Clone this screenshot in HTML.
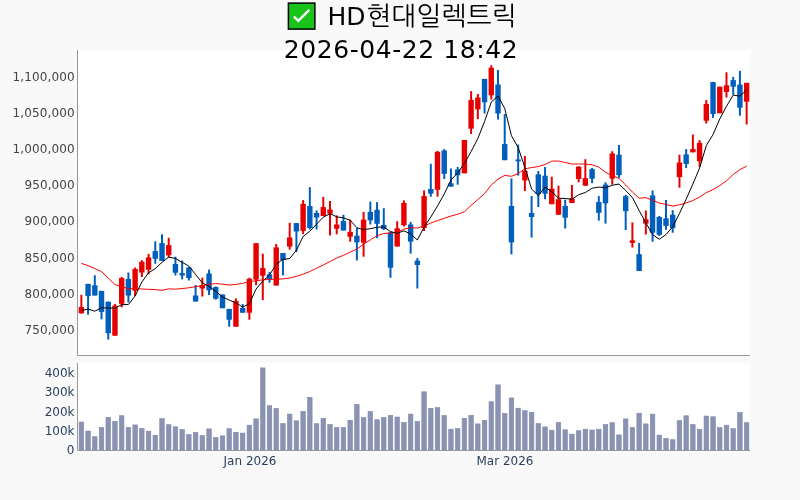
<!DOCTYPE html>
<html><head><meta charset="utf-8"><title>HD현대일렉트릭</title>
<style>
html,body{margin:0;padding:0;width:800px;height:500px;overflow:hidden;background:#f9f9f9;}
svg{display:block;will-change:transform;}
.t{font-family:"DejaVu Sans","Liberation Sans","NanumGothic",sans-serif;font-size:25px;fill:#000;}
.ax{font-family:"DejaVu Sans","Liberation Sans",sans-serif;font-size:12px;fill:#444;}
.vx{font-family:"DejaVu Sans","Liberation Sans",sans-serif;font-size:12px;fill:#2a3f5f;}
</style></head><body>
<svg width="800" height="500" viewBox="0 0 800 500">
<rect width="800" height="500" fill="#f9f9f9"/>
<rect x="78" y="50" width="672" height="305" fill="#fff"/>
<rect x="78" y="363" width="672" height="87" fill="#fff"/>
<g>
<line x1="81.36" y1="294.8" x2="81.36" y2="313.7" stroke="#e60000" stroke-width="2.0"/>
<rect x="78.66" y="307.0" width="5.4" height="6.3" fill="#e60000"/>
<line x1="88.08" y1="283.9" x2="88.08" y2="314.7" stroke="#005ebd" stroke-width="2.0"/>
<rect x="85.38" y="283.9" width="5.4" height="12.2" fill="#005ebd"/>
<line x1="94.80" y1="275.2" x2="94.80" y2="295.5" stroke="#005ebd" stroke-width="2.0"/>
<rect x="92.10" y="285.3" width="5.4" height="10.2" fill="#005ebd"/>
<line x1="101.52" y1="290.9" x2="101.52" y2="319.3" stroke="#005ebd" stroke-width="2.0"/>
<rect x="98.82" y="290.9" width="5.4" height="21.0" fill="#005ebd"/>
<line x1="108.24" y1="301.7" x2="108.24" y2="339.6" stroke="#005ebd" stroke-width="2.0"/>
<rect x="105.54" y="301.7" width="5.4" height="31.5" fill="#005ebd"/>
<line x1="114.96" y1="303.9" x2="114.96" y2="335.7" stroke="#e60000" stroke-width="2.0"/>
<rect x="112.26" y="305.6" width="5.4" height="30.1" fill="#e60000"/>
<line x1="121.68" y1="276.9" x2="121.68" y2="307.3" stroke="#e60000" stroke-width="2.0"/>
<rect x="118.98" y="278.1" width="5.4" height="25.7" fill="#e60000"/>
<line x1="128.40" y1="272.5" x2="128.40" y2="302.5" stroke="#005ebd" stroke-width="2.0"/>
<rect x="125.70" y="279.0" width="5.4" height="16.5" fill="#005ebd"/>
<line x1="135.12" y1="267.5" x2="135.12" y2="296.0" stroke="#e60000" stroke-width="2.0"/>
<rect x="132.42" y="269.0" width="5.4" height="21.8" fill="#e60000"/>
<line x1="141.84" y1="260.2" x2="141.84" y2="277.0" stroke="#e60000" stroke-width="2.0"/>
<rect x="139.14" y="261.7" width="5.4" height="10.8" fill="#e60000"/>
<line x1="148.56" y1="253.9" x2="148.56" y2="274.2" stroke="#e60000" stroke-width="2.0"/>
<rect x="145.86" y="257.4" width="5.4" height="12.3" fill="#e60000"/>
<line x1="155.28" y1="241.3" x2="155.28" y2="263.7" stroke="#005ebd" stroke-width="2.0"/>
<rect x="152.58" y="251.1" width="5.4" height="7.7" fill="#005ebd"/>
<line x1="162.00" y1="234.3" x2="162.00" y2="260.9" stroke="#005ebd" stroke-width="2.0"/>
<rect x="159.30" y="243.1" width="5.4" height="17.8" fill="#005ebd"/>
<line x1="168.72" y1="237.8" x2="168.72" y2="257.4" stroke="#e60000" stroke-width="2.0"/>
<rect x="166.02" y="245.1" width="5.4" height="10.2" fill="#e60000"/>
<line x1="175.44" y1="256.7" x2="175.44" y2="275.5" stroke="#005ebd" stroke-width="2.0"/>
<rect x="172.74" y="264.0" width="5.4" height="8.7" fill="#005ebd"/>
<line x1="182.16" y1="260.5" x2="182.16" y2="279.4" stroke="#005ebd" stroke-width="2.0"/>
<rect x="179.46" y="273.1" width="5.4" height="2.4" fill="#005ebd"/>
<line x1="188.88" y1="266.8" x2="188.88" y2="280.5" stroke="#005ebd" stroke-width="2.0"/>
<rect x="186.18" y="267.5" width="5.4" height="10.5" fill="#005ebd"/>
<line x1="195.60" y1="285.0" x2="195.60" y2="301.5" stroke="#005ebd" stroke-width="2.0"/>
<rect x="192.90" y="295.5" width="5.4" height="6.0" fill="#005ebd"/>
<line x1="202.32" y1="277.7" x2="202.32" y2="296.5" stroke="#e60000" stroke-width="2.0"/>
<rect x="199.62" y="285.0" width="5.4" height="3.5" fill="#e60000"/>
<line x1="209.04" y1="269.6" x2="209.04" y2="295.1" stroke="#005ebd" stroke-width="2.0"/>
<rect x="206.34" y="273.5" width="5.4" height="16.8" fill="#005ebd"/>
<line x1="215.76" y1="286.4" x2="215.76" y2="299.7" stroke="#005ebd" stroke-width="2.0"/>
<rect x="213.06" y="287.1" width="5.4" height="11.6" fill="#005ebd"/>
<line x1="222.48" y1="294.5" x2="222.48" y2="308.2" stroke="#005ebd" stroke-width="2.0"/>
<rect x="219.78" y="294.5" width="5.4" height="13.7" fill="#005ebd"/>
<line x1="229.20" y1="308.9" x2="229.20" y2="326.7" stroke="#005ebd" stroke-width="2.0"/>
<rect x="226.50" y="308.9" width="5.4" height="10.8" fill="#005ebd"/>
<line x1="235.92" y1="298.4" x2="235.92" y2="326.7" stroke="#e60000" stroke-width="2.0"/>
<rect x="233.22" y="300.9" width="5.4" height="25.8" fill="#e60000"/>
<line x1="242.64" y1="304.0" x2="242.64" y2="312.7" stroke="#005ebd" stroke-width="2.0"/>
<rect x="239.94" y="308.0" width="5.4" height="4.7" fill="#005ebd"/>
<line x1="249.36" y1="277.7" x2="249.36" y2="319.7" stroke="#e60000" stroke-width="2.0"/>
<rect x="246.66" y="278.8" width="5.4" height="33.9" fill="#e60000"/>
<line x1="256.08" y1="243.2" x2="256.08" y2="285.2" stroke="#e60000" stroke-width="2.0"/>
<rect x="253.38" y="243.2" width="5.4" height="36.4" fill="#e60000"/>
<line x1="262.80" y1="253.7" x2="262.80" y2="300.0" stroke="#e60000" stroke-width="2.0"/>
<rect x="260.10" y="268.1" width="5.4" height="7.6" fill="#e60000"/>
<line x1="269.52" y1="271.9" x2="269.52" y2="282.7" stroke="#005ebd" stroke-width="2.0"/>
<rect x="266.82" y="274.3" width="5.4" height="4.6" fill="#005ebd"/>
<line x1="276.24" y1="243.9" x2="276.24" y2="285.5" stroke="#e60000" stroke-width="2.0"/>
<rect x="273.54" y="247.4" width="5.4" height="38.1" fill="#e60000"/>
<line x1="282.96" y1="253.0" x2="282.96" y2="275.4" stroke="#005ebd" stroke-width="2.0"/>
<rect x="280.26" y="253.0" width="5.4" height="7.0" fill="#005ebd"/>
<line x1="289.68" y1="222.8" x2="289.68" y2="249.7" stroke="#e60000" stroke-width="2.0"/>
<rect x="286.98" y="237.5" width="5.4" height="9.1" fill="#e60000"/>
<line x1="296.40" y1="223.1" x2="296.40" y2="252.0" stroke="#005ebd" stroke-width="2.0"/>
<rect x="293.70" y="223.1" width="5.4" height="8.4" fill="#005ebd"/>
<line x1="303.12" y1="200.1" x2="303.12" y2="234.0" stroke="#e60000" stroke-width="2.0"/>
<rect x="300.42" y="203.9" width="5.4" height="27.0" fill="#e60000"/>
<line x1="309.84" y1="187.1" x2="309.84" y2="229.5" stroke="#005ebd" stroke-width="2.0"/>
<rect x="307.14" y="206.0" width="5.4" height="22.1" fill="#005ebd"/>
<line x1="316.56" y1="210.5" x2="316.56" y2="229.5" stroke="#005ebd" stroke-width="2.0"/>
<rect x="313.86" y="213.0" width="5.4" height="4.5" fill="#005ebd"/>
<line x1="323.28" y1="196.9" x2="323.28" y2="216.1" stroke="#e60000" stroke-width="2.0"/>
<rect x="320.58" y="207.1" width="5.4" height="9.0" fill="#e60000"/>
<line x1="330.00" y1="201.1" x2="330.00" y2="235.4" stroke="#e60000" stroke-width="2.0"/>
<rect x="327.30" y="209.5" width="5.4" height="4.2" fill="#e60000"/>
<line x1="336.72" y1="215.4" x2="336.72" y2="234.3" stroke="#e60000" stroke-width="2.0"/>
<rect x="334.02" y="224.5" width="5.4" height="4.2" fill="#e60000"/>
<line x1="343.44" y1="214.7" x2="343.44" y2="230.5" stroke="#005ebd" stroke-width="2.0"/>
<rect x="340.74" y="221.0" width="5.4" height="9.5" fill="#005ebd"/>
<line x1="350.16" y1="219.6" x2="350.16" y2="241.7" stroke="#e60000" stroke-width="2.0"/>
<rect x="347.46" y="231.9" width="5.4" height="4.8" fill="#e60000"/>
<line x1="356.88" y1="228.0" x2="356.88" y2="260.5" stroke="#005ebd" stroke-width="2.0"/>
<rect x="354.18" y="235.7" width="5.4" height="6.6" fill="#005ebd"/>
<line x1="363.60" y1="211.9" x2="363.60" y2="256.7" stroke="#e60000" stroke-width="2.0"/>
<rect x="360.90" y="219.6" width="5.4" height="23.1" fill="#e60000"/>
<line x1="370.32" y1="201.7" x2="370.32" y2="224.5" stroke="#005ebd" stroke-width="2.0"/>
<rect x="367.62" y="211.9" width="5.4" height="8.4" fill="#005ebd"/>
<line x1="377.04" y1="202.1" x2="377.04" y2="238.1" stroke="#005ebd" stroke-width="2.0"/>
<rect x="374.34" y="209.8" width="5.4" height="14.0" fill="#005ebd"/>
<line x1="383.76" y1="208.2" x2="383.76" y2="230.0" stroke="#005ebd" stroke-width="2.0"/>
<rect x="381.06" y="224.9" width="5.4" height="4.2" fill="#005ebd"/>
<line x1="390.48" y1="231.6" x2="390.48" y2="277.8" stroke="#005ebd" stroke-width="2.0"/>
<rect x="387.78" y="232.5" width="5.4" height="35.2" fill="#005ebd"/>
<line x1="397.20" y1="221.2" x2="397.20" y2="246.5" stroke="#e60000" stroke-width="2.0"/>
<rect x="394.50" y="228.3" width="5.4" height="18.2" fill="#e60000"/>
<line x1="403.92" y1="200.4" x2="403.92" y2="226.5" stroke="#e60000" stroke-width="2.0"/>
<rect x="401.22" y="203.0" width="5.4" height="22.2" fill="#e60000"/>
<line x1="410.64" y1="222.0" x2="410.64" y2="253.6" stroke="#005ebd" stroke-width="2.0"/>
<rect x="407.94" y="224.5" width="5.4" height="17.1" fill="#005ebd"/>
<line x1="417.36" y1="258.1" x2="417.36" y2="288.5" stroke="#005ebd" stroke-width="2.0"/>
<rect x="414.66" y="260.6" width="5.4" height="4.4" fill="#005ebd"/>
<line x1="424.08" y1="190.4" x2="424.08" y2="231.0" stroke="#e60000" stroke-width="2.0"/>
<rect x="421.38" y="196.1" width="5.4" height="31.9" fill="#e60000"/>
<line x1="430.80" y1="163.8" x2="430.80" y2="196.7" stroke="#005ebd" stroke-width="2.0"/>
<rect x="428.10" y="189.0" width="5.4" height="4.6" fill="#005ebd"/>
<line x1="437.52" y1="151.0" x2="437.52" y2="196.7" stroke="#e60000" stroke-width="2.0"/>
<rect x="434.82" y="151.8" width="5.4" height="38.0" fill="#e60000"/>
<line x1="444.24" y1="149.1" x2="444.24" y2="179.0" stroke="#005ebd" stroke-width="2.0"/>
<rect x="441.54" y="150.5" width="5.4" height="23.3" fill="#005ebd"/>
<line x1="450.96" y1="168.5" x2="450.96" y2="186.6" stroke="#005ebd" stroke-width="2.0"/>
<rect x="448.26" y="183.3" width="5.4" height="3.3" fill="#005ebd"/>
<line x1="457.68" y1="167.0" x2="457.68" y2="184.7" stroke="#005ebd" stroke-width="2.0"/>
<rect x="454.98" y="169.5" width="5.4" height="5.7" fill="#005ebd"/>
<line x1="464.40" y1="140.0" x2="464.40" y2="173.3" stroke="#e60000" stroke-width="2.0"/>
<rect x="461.70" y="140.0" width="5.4" height="33.3" fill="#e60000"/>
<line x1="471.12" y1="91.1" x2="471.12" y2="134.0" stroke="#e60000" stroke-width="2.0"/>
<rect x="468.42" y="99.9" width="5.4" height="28.7" fill="#e60000"/>
<line x1="477.84" y1="94.0" x2="477.84" y2="119.1" stroke="#e60000" stroke-width="2.0"/>
<rect x="475.14" y="97.5" width="5.4" height="11.8" fill="#e60000"/>
<line x1="484.56" y1="78.9" x2="484.56" y2="113.5" stroke="#005ebd" stroke-width="2.0"/>
<rect x="481.86" y="78.9" width="5.4" height="23.4" fill="#005ebd"/>
<line x1="491.28" y1="65.3" x2="491.28" y2="99.5" stroke="#e60000" stroke-width="2.0"/>
<rect x="488.58" y="67.7" width="5.4" height="27.6" fill="#e60000"/>
<line x1="498.00" y1="70.1" x2="498.00" y2="119.5" stroke="#005ebd" stroke-width="2.0"/>
<rect x="495.30" y="84.5" width="5.4" height="29.0" fill="#005ebd"/>
<line x1="504.72" y1="114.0" x2="504.72" y2="160.2" stroke="#005ebd" stroke-width="2.0"/>
<rect x="502.02" y="144.1" width="5.4" height="16.1" fill="#005ebd"/>
<line x1="511.44" y1="178.4" x2="511.44" y2="254.4" stroke="#005ebd" stroke-width="2.0"/>
<rect x="508.74" y="206.0" width="5.4" height="36.4" fill="#005ebd"/>
<line x1="518.16" y1="144.5" x2="518.16" y2="175.6" stroke="#005ebd" stroke-width="2.0"/>
<rect x="515.46" y="159.5" width="5.4" height="1.8" fill="#005ebd"/>
<line x1="524.88" y1="156.0" x2="524.88" y2="191.0" stroke="#e60000" stroke-width="2.0"/>
<rect x="522.18" y="171.0" width="5.4" height="9.4" fill="#e60000"/>
<line x1="531.60" y1="196.0" x2="531.60" y2="237.6" stroke="#005ebd" stroke-width="2.0"/>
<rect x="528.90" y="213.0" width="5.4" height="4.0" fill="#005ebd"/>
<line x1="538.32" y1="171.0" x2="538.32" y2="207.0" stroke="#005ebd" stroke-width="2.0"/>
<rect x="535.62" y="174.4" width="5.4" height="19.6" fill="#005ebd"/>
<line x1="545.04" y1="167.0" x2="545.04" y2="199.2" stroke="#005ebd" stroke-width="2.0"/>
<rect x="542.34" y="175.7" width="5.4" height="18.0" fill="#005ebd"/>
<line x1="551.76" y1="176.7" x2="551.76" y2="204.2" stroke="#e60000" stroke-width="2.0"/>
<rect x="549.06" y="188.7" width="5.4" height="15.5" fill="#e60000"/>
<line x1="558.48" y1="185.7" x2="558.48" y2="214.7" stroke="#e60000" stroke-width="2.0"/>
<rect x="555.78" y="199.2" width="5.4" height="15.5" fill="#e60000"/>
<line x1="565.20" y1="199.7" x2="565.20" y2="228.5" stroke="#005ebd" stroke-width="2.0"/>
<rect x="562.50" y="206.0" width="5.4" height="11.7" fill="#005ebd"/>
<line x1="571.92" y1="185.0" x2="571.92" y2="203.0" stroke="#e60000" stroke-width="2.0"/>
<rect x="569.22" y="198.5" width="5.4" height="4.5" fill="#e60000"/>
<line x1="578.64" y1="166.2" x2="578.64" y2="182.3" stroke="#e60000" stroke-width="2.0"/>
<rect x="575.94" y="166.7" width="5.4" height="12.3" fill="#e60000"/>
<line x1="585.36" y1="159.2" x2="585.36" y2="185.7" stroke="#e60000" stroke-width="2.0"/>
<rect x="582.66" y="178.2" width="5.4" height="7.5" fill="#e60000"/>
<line x1="592.08" y1="167.9" x2="592.08" y2="183.2" stroke="#005ebd" stroke-width="2.0"/>
<rect x="589.38" y="169.1" width="5.4" height="9.6" fill="#005ebd"/>
<line x1="598.80" y1="196.1" x2="598.80" y2="220.6" stroke="#005ebd" stroke-width="2.0"/>
<rect x="596.10" y="202.0" width="5.4" height="10.8" fill="#005ebd"/>
<line x1="605.52" y1="182.3" x2="605.52" y2="223.6" stroke="#005ebd" stroke-width="2.0"/>
<rect x="602.82" y="184.6" width="5.4" height="18.7" fill="#005ebd"/>
<line x1="612.24" y1="151.2" x2="612.24" y2="184.6" stroke="#e60000" stroke-width="2.0"/>
<rect x="609.54" y="153.5" width="5.4" height="25.2" fill="#e60000"/>
<line x1="618.96" y1="145.0" x2="618.96" y2="177.8" stroke="#005ebd" stroke-width="2.0"/>
<rect x="616.26" y="154.7" width="5.4" height="20.4" fill="#005ebd"/>
<line x1="625.68" y1="194.9" x2="625.68" y2="230.0" stroke="#005ebd" stroke-width="2.0"/>
<rect x="622.98" y="196.2" width="5.4" height="14.9" fill="#005ebd"/>
<line x1="632.40" y1="222.4" x2="632.40" y2="247.6" stroke="#e60000" stroke-width="2.0"/>
<rect x="629.70" y="240.4" width="5.4" height="2.5" fill="#e60000"/>
<line x1="639.12" y1="242.9" x2="639.12" y2="271.0" stroke="#005ebd" stroke-width="2.0"/>
<rect x="636.42" y="254.2" width="5.4" height="16.8" fill="#005ebd"/>
<line x1="645.84" y1="210.5" x2="645.84" y2="234.5" stroke="#e60000" stroke-width="2.0"/>
<rect x="643.14" y="219.2" width="5.4" height="4.5" fill="#e60000"/>
<line x1="652.56" y1="190.4" x2="652.56" y2="241.7" stroke="#005ebd" stroke-width="2.0"/>
<rect x="649.86" y="195.4" width="5.4" height="37.3" fill="#005ebd"/>
<line x1="659.28" y1="216.0" x2="659.28" y2="236.0" stroke="#005ebd" stroke-width="2.0"/>
<rect x="656.58" y="217.0" width="5.4" height="17.8" fill="#005ebd"/>
<line x1="666.00" y1="200.0" x2="666.00" y2="229.7" stroke="#005ebd" stroke-width="2.0"/>
<rect x="663.30" y="218.3" width="5.4" height="7.5" fill="#005ebd"/>
<line x1="672.72" y1="210.2" x2="672.72" y2="232.7" stroke="#005ebd" stroke-width="2.0"/>
<rect x="670.02" y="214.7" width="5.4" height="13.5" fill="#005ebd"/>
<line x1="679.44" y1="154.7" x2="679.44" y2="187.7" stroke="#e60000" stroke-width="2.0"/>
<rect x="676.74" y="162.5" width="5.4" height="14.6" fill="#e60000"/>
<line x1="686.16" y1="149.1" x2="686.16" y2="168.1" stroke="#005ebd" stroke-width="2.0"/>
<rect x="683.46" y="154.4" width="5.4" height="9.5" fill="#005ebd"/>
<line x1="692.88" y1="134.5" x2="692.88" y2="152.3" stroke="#e60000" stroke-width="2.0"/>
<rect x="690.18" y="149.1" width="5.4" height="3.2" fill="#e60000"/>
<line x1="699.60" y1="140.1" x2="699.60" y2="166.7" stroke="#e60000" stroke-width="2.0"/>
<rect x="696.90" y="142.9" width="5.4" height="18.2" fill="#e60000"/>
<line x1="706.32" y1="100.0" x2="706.32" y2="123.5" stroke="#e60000" stroke-width="2.0"/>
<rect x="703.62" y="103.9" width="5.4" height="16.8" fill="#e60000"/>
<line x1="713.04" y1="81.8" x2="713.04" y2="117.9" stroke="#005ebd" stroke-width="2.0"/>
<rect x="710.34" y="82.1" width="5.4" height="31.9" fill="#005ebd"/>
<line x1="719.76" y1="86.7" x2="719.76" y2="112.6" stroke="#e60000" stroke-width="2.0"/>
<rect x="717.06" y="86.7" width="5.4" height="26.6" fill="#e60000"/>
<line x1="726.48" y1="72.3" x2="726.48" y2="97.5" stroke="#e60000" stroke-width="2.0"/>
<rect x="723.78" y="85.3" width="5.4" height="6.6" fill="#e60000"/>
<line x1="733.20" y1="76.9" x2="733.20" y2="94.7" stroke="#005ebd" stroke-width="2.0"/>
<rect x="730.50" y="80.1" width="5.4" height="6.6" fill="#005ebd"/>
<line x1="739.92" y1="70.9" x2="739.92" y2="115.7" stroke="#005ebd" stroke-width="2.0"/>
<rect x="737.22" y="84.6" width="5.4" height="23.1" fill="#005ebd"/>
<line x1="746.64" y1="82.9" x2="746.64" y2="124.5" stroke="#e60000" stroke-width="2.0"/>
<rect x="743.94" y="82.9" width="5.4" height="18.8" fill="#e60000"/>
<path d="M81.36,263.40 L88.08,265.60 L94.80,268.60 L101.52,271.60 L108.24,278.00 L114.96,284.60 L121.68,286.70 L128.40,288.70 L135.12,288.50 L141.84,289.00 L148.56,289.30 L155.28,289.60 L162.00,290.30 L168.72,288.80 L175.44,289.20 L182.16,288.50 L188.88,287.80 L195.60,286.70 L202.32,285.70 L209.04,284.30 L215.76,283.60 L222.48,284.10 L229.20,285.10 L235.92,284.40 L242.64,283.30 L249.36,281.70 L256.08,280.75 L262.80,279.85 L269.52,279.40 L276.24,279.30 L282.96,278.90 L289.68,278.00 L296.40,276.40 L303.12,274.20 L309.84,271.50 L316.56,268.20 L323.28,265.00 L330.00,261.50 L336.72,258.00 L343.44,255.30 L350.16,252.10 L356.88,249.00 L363.60,244.10 L370.32,239.90 L377.04,235.70 L383.76,233.50 L390.48,233.00 L397.20,232.50 L403.92,229.10 L410.64,227.70 L417.36,228.00 L424.08,226.00 L430.80,223.00 L437.52,220.60 L444.24,218.30 L450.96,216.00 L457.68,214.30 L464.40,211.80 L471.12,205.30 L477.84,199.60 L484.56,193.50 L491.28,185.00 L498.00,179.20 L504.72,175.40 L511.44,176.30 L518.16,173.60 L524.88,168.80 L531.60,167.60 L538.32,166.50 L545.04,164.50 L551.76,161.20 L558.48,161.00 L565.20,162.50 L571.92,164.00 L578.64,164.00 L585.36,164.00 L592.08,164.80 L598.80,167.00 L605.52,172.40 L612.24,175.50 L618.96,178.30 L625.68,185.00 L632.40,192.00 L639.12,198.30 L645.84,197.60 L652.56,200.30 L659.28,203.00 L666.00,204.50 L672.72,206.00 L679.44,204.80 L686.16,203.00 L692.88,200.50 L699.60,197.00 L706.32,192.60 L713.04,189.60 L719.76,185.50 L726.48,180.80 L733.20,174.50 L739.92,169.60 L746.64,166.20" fill="none" stroke="#ff0000" stroke-width="1" stroke-linejoin="round"/>
<path d="M81.36,310.50 L88.08,309.10 L94.80,311.20 L101.52,307.70 L108.24,308.10 L114.96,308.10 L121.68,304.70 L128.40,304.50 L135.12,296.00 L141.84,282.00 L148.56,272.80 L155.28,268.60 L162.00,262.30 L168.72,257.10 L175.44,258.40 L182.16,262.30 L188.88,266.10 L195.60,274.50 L202.32,282.90 L209.04,286.40 L215.76,291.30 L222.48,297.00 L229.20,300.10 L235.92,302.90 L242.64,307.10 L249.36,303.70 L256.08,289.00 L262.80,281.00 L269.52,275.10 L276.24,264.20 L282.96,259.30 L289.68,258.60 L296.40,250.20 L303.12,236.50 L309.84,231.20 L316.56,224.20 L323.28,217.20 L330.00,213.70 L336.72,216.80 L343.44,217.90 L350.16,220.30 L356.88,227.70 L363.60,229.70 L370.32,228.70 L377.04,227.30 L383.76,226.90 L390.48,231.60 L397.20,233.30 L403.92,230.80 L410.64,234.00 L417.36,240.00 L424.08,227.00 L430.80,217.00 L437.52,206.00 L444.24,194.00 L450.96,180.00 L457.68,173.00 L464.40,163.50 L471.12,151.50 L477.84,138.50 L484.56,121.50 L491.28,102.00 L498.00,96.00 L504.72,108.40 L511.44,135.70 L518.16,147.60 L524.88,167.50 L531.60,189.00 L538.32,195.60 L545.04,187.20 L551.76,191.70 L558.48,198.20 L565.20,198.50 L571.92,199.20 L578.64,194.70 L585.36,192.50 L592.08,188.20 L598.80,187.10 L605.52,187.70 L612.24,185.30 L618.96,184.00 L625.68,190.50 L632.40,197.50 L639.12,210.50 L645.84,222.80 L652.56,234.50 L659.28,239.30 L666.00,234.50 L672.72,226.70 L679.44,213.50 L686.16,199.20 L692.88,184.00 L699.60,168.00 L706.32,145.50 L713.04,134.50 L719.76,119.00 L726.48,106.30 L733.20,95.10 L739.92,96.10 L746.64,89.90" fill="none" stroke="#000000" stroke-width="1" stroke-linejoin="round"/>
</g>
<g>
<rect x="79.11" y="422.0" width="4.50" height="28.0" fill="#8a93b3" stroke="#7d87a9" stroke-width="0.6"/>
<rect x="85.83" y="431.0" width="4.50" height="19.0" fill="#8a93b3" stroke="#7d87a9" stroke-width="0.6"/>
<rect x="92.55" y="436.7" width="4.50" height="13.3" fill="#8a93b3" stroke="#7d87a9" stroke-width="0.6"/>
<rect x="99.27" y="427.4" width="4.50" height="22.6" fill="#8a93b3" stroke="#7d87a9" stroke-width="0.6"/>
<rect x="105.99" y="417.4" width="4.50" height="32.6" fill="#8a93b3" stroke="#7d87a9" stroke-width="0.6"/>
<rect x="112.71" y="421.4" width="4.50" height="28.6" fill="#8a93b3" stroke="#7d87a9" stroke-width="0.6"/>
<rect x="119.43" y="415.7" width="4.50" height="34.3" fill="#8a93b3" stroke="#7d87a9" stroke-width="0.6"/>
<rect x="126.15" y="427.4" width="4.50" height="22.6" fill="#8a93b3" stroke="#7d87a9" stroke-width="0.6"/>
<rect x="132.87" y="424.9" width="4.50" height="25.1" fill="#8a93b3" stroke="#7d87a9" stroke-width="0.6"/>
<rect x="139.59" y="428.5" width="4.50" height="21.5" fill="#8a93b3" stroke="#7d87a9" stroke-width="0.6"/>
<rect x="146.31" y="431.2" width="4.50" height="18.8" fill="#8a93b3" stroke="#7d87a9" stroke-width="0.6"/>
<rect x="153.03" y="435.2" width="4.50" height="14.8" fill="#8a93b3" stroke="#7d87a9" stroke-width="0.6"/>
<rect x="159.75" y="418.6" width="4.50" height="31.4" fill="#8a93b3" stroke="#7d87a9" stroke-width="0.6"/>
<rect x="166.47" y="424.7" width="4.50" height="25.3" fill="#8a93b3" stroke="#7d87a9" stroke-width="0.6"/>
<rect x="173.19" y="426.8" width="4.50" height="23.2" fill="#8a93b3" stroke="#7d87a9" stroke-width="0.6"/>
<rect x="179.91" y="429.6" width="4.50" height="20.4" fill="#8a93b3" stroke="#7d87a9" stroke-width="0.6"/>
<rect x="186.63" y="434.6" width="4.50" height="15.4" fill="#8a93b3" stroke="#7d87a9" stroke-width="0.6"/>
<rect x="193.35" y="432.5" width="4.50" height="17.5" fill="#8a93b3" stroke="#7d87a9" stroke-width="0.6"/>
<rect x="200.07" y="435.6" width="4.50" height="14.4" fill="#8a93b3" stroke="#7d87a9" stroke-width="0.6"/>
<rect x="206.79" y="428.9" width="4.50" height="21.1" fill="#8a93b3" stroke="#7d87a9" stroke-width="0.6"/>
<rect x="213.51" y="437.5" width="4.50" height="12.5" fill="#8a93b3" stroke="#7d87a9" stroke-width="0.6"/>
<rect x="220.23" y="435.9" width="4.50" height="14.1" fill="#8a93b3" stroke="#7d87a9" stroke-width="0.6"/>
<rect x="226.95" y="428.7" width="4.50" height="21.3" fill="#8a93b3" stroke="#7d87a9" stroke-width="0.6"/>
<rect x="233.67" y="432.3" width="4.50" height="17.7" fill="#8a93b3" stroke="#7d87a9" stroke-width="0.6"/>
<rect x="240.39" y="433.1" width="4.50" height="16.9" fill="#8a93b3" stroke="#7d87a9" stroke-width="0.6"/>
<rect x="247.11" y="425.2" width="4.50" height="24.8" fill="#8a93b3" stroke="#7d87a9" stroke-width="0.6"/>
<rect x="253.83" y="418.9" width="4.50" height="31.1" fill="#8a93b3" stroke="#7d87a9" stroke-width="0.6"/>
<rect x="260.55" y="367.9" width="4.50" height="82.1" fill="#8a93b3" stroke="#7d87a9" stroke-width="0.6"/>
<rect x="267.27" y="405.7" width="4.50" height="44.3" fill="#8a93b3" stroke="#7d87a9" stroke-width="0.6"/>
<rect x="273.99" y="408.4" width="4.50" height="41.6" fill="#8a93b3" stroke="#7d87a9" stroke-width="0.6"/>
<rect x="280.71" y="423.5" width="4.50" height="26.5" fill="#8a93b3" stroke="#7d87a9" stroke-width="0.6"/>
<rect x="287.43" y="414.1" width="4.50" height="35.9" fill="#8a93b3" stroke="#7d87a9" stroke-width="0.6"/>
<rect x="294.15" y="420.8" width="4.50" height="29.2" fill="#8a93b3" stroke="#7d87a9" stroke-width="0.6"/>
<rect x="300.87" y="411.3" width="4.50" height="38.7" fill="#8a93b3" stroke="#7d87a9" stroke-width="0.6"/>
<rect x="307.59" y="397.3" width="4.50" height="52.7" fill="#8a93b3" stroke="#7d87a9" stroke-width="0.6"/>
<rect x="314.31" y="423.7" width="4.50" height="26.3" fill="#8a93b3" stroke="#7d87a9" stroke-width="0.6"/>
<rect x="321.03" y="418.3" width="4.50" height="31.7" fill="#8a93b3" stroke="#7d87a9" stroke-width="0.6"/>
<rect x="327.75" y="424.4" width="4.50" height="25.6" fill="#8a93b3" stroke="#7d87a9" stroke-width="0.6"/>
<rect x="334.47" y="427.5" width="4.50" height="22.5" fill="#8a93b3" stroke="#7d87a9" stroke-width="0.6"/>
<rect x="341.19" y="427.5" width="4.50" height="22.5" fill="#8a93b3" stroke="#7d87a9" stroke-width="0.6"/>
<rect x="347.91" y="420.2" width="4.50" height="29.8" fill="#8a93b3" stroke="#7d87a9" stroke-width="0.6"/>
<rect x="354.63" y="404.4" width="4.50" height="45.6" fill="#8a93b3" stroke="#7d87a9" stroke-width="0.6"/>
<rect x="361.35" y="417.6" width="4.50" height="32.4" fill="#8a93b3" stroke="#7d87a9" stroke-width="0.6"/>
<rect x="368.07" y="411.5" width="4.50" height="38.5" fill="#8a93b3" stroke="#7d87a9" stroke-width="0.6"/>
<rect x="374.79" y="419.7" width="4.50" height="30.3" fill="#8a93b3" stroke="#7d87a9" stroke-width="0.6"/>
<rect x="381.51" y="417.4" width="4.50" height="32.6" fill="#8a93b3" stroke="#7d87a9" stroke-width="0.6"/>
<rect x="388.23" y="415.3" width="4.50" height="34.7" fill="#8a93b3" stroke="#7d87a9" stroke-width="0.6"/>
<rect x="394.95" y="417.0" width="4.50" height="33.0" fill="#8a93b3" stroke="#7d87a9" stroke-width="0.6"/>
<rect x="401.67" y="422.5" width="4.50" height="27.5" fill="#8a93b3" stroke="#7d87a9" stroke-width="0.6"/>
<rect x="408.39" y="414.1" width="4.50" height="35.9" fill="#8a93b3" stroke="#7d87a9" stroke-width="0.6"/>
<rect x="415.11" y="421.4" width="4.50" height="28.6" fill="#8a93b3" stroke="#7d87a9" stroke-width="0.6"/>
<rect x="421.83" y="391.8" width="4.50" height="58.2" fill="#8a93b3" stroke="#7d87a9" stroke-width="0.6"/>
<rect x="428.55" y="408.4" width="4.50" height="41.6" fill="#8a93b3" stroke="#7d87a9" stroke-width="0.6"/>
<rect x="435.27" y="407.6" width="4.50" height="42.4" fill="#8a93b3" stroke="#7d87a9" stroke-width="0.6"/>
<rect x="441.99" y="415.5" width="4.50" height="34.5" fill="#8a93b3" stroke="#7d87a9" stroke-width="0.6"/>
<rect x="448.71" y="429.2" width="4.50" height="20.8" fill="#8a93b3" stroke="#7d87a9" stroke-width="0.6"/>
<rect x="455.43" y="428.6" width="4.50" height="21.4" fill="#8a93b3" stroke="#7d87a9" stroke-width="0.6"/>
<rect x="462.15" y="418.3" width="4.50" height="31.7" fill="#8a93b3" stroke="#7d87a9" stroke-width="0.6"/>
<rect x="468.87" y="415.3" width="4.50" height="34.7" fill="#8a93b3" stroke="#7d87a9" stroke-width="0.6"/>
<rect x="475.59" y="423.9" width="4.50" height="26.1" fill="#8a93b3" stroke="#7d87a9" stroke-width="0.6"/>
<rect x="482.31" y="420.4" width="4.50" height="29.6" fill="#8a93b3" stroke="#7d87a9" stroke-width="0.6"/>
<rect x="489.03" y="401.7" width="4.50" height="48.3" fill="#8a93b3" stroke="#7d87a9" stroke-width="0.6"/>
<rect x="495.75" y="384.9" width="4.50" height="65.1" fill="#8a93b3" stroke="#7d87a9" stroke-width="0.6"/>
<rect x="502.47" y="413.4" width="4.50" height="36.6" fill="#8a93b3" stroke="#7d87a9" stroke-width="0.6"/>
<rect x="509.19" y="397.9" width="4.50" height="52.1" fill="#8a93b3" stroke="#7d87a9" stroke-width="0.6"/>
<rect x="515.91" y="408.2" width="4.50" height="41.8" fill="#8a93b3" stroke="#7d87a9" stroke-width="0.6"/>
<rect x="522.63" y="410.7" width="4.50" height="39.3" fill="#8a93b3" stroke="#7d87a9" stroke-width="0.6"/>
<rect x="529.35" y="412.4" width="4.50" height="37.6" fill="#8a93b3" stroke="#7d87a9" stroke-width="0.6"/>
<rect x="536.07" y="423.5" width="4.50" height="26.5" fill="#8a93b3" stroke="#7d87a9" stroke-width="0.6"/>
<rect x="542.79" y="426.9" width="4.50" height="23.1" fill="#8a93b3" stroke="#7d87a9" stroke-width="0.6"/>
<rect x="549.51" y="430.2" width="4.50" height="19.8" fill="#8a93b3" stroke="#7d87a9" stroke-width="0.6"/>
<rect x="556.23" y="422.5" width="4.50" height="27.5" fill="#8a93b3" stroke="#7d87a9" stroke-width="0.6"/>
<rect x="562.95" y="429.8" width="4.50" height="20.2" fill="#8a93b3" stroke="#7d87a9" stroke-width="0.6"/>
<rect x="569.67" y="434.2" width="4.50" height="15.8" fill="#8a93b3" stroke="#7d87a9" stroke-width="0.6"/>
<rect x="576.39" y="430.7" width="4.50" height="19.3" fill="#8a93b3" stroke="#7d87a9" stroke-width="0.6"/>
<rect x="583.11" y="429.2" width="4.50" height="20.8" fill="#8a93b3" stroke="#7d87a9" stroke-width="0.6"/>
<rect x="589.83" y="430.0" width="4.50" height="20.0" fill="#8a93b3" stroke="#7d87a9" stroke-width="0.6"/>
<rect x="596.55" y="429.2" width="4.50" height="20.8" fill="#8a93b3" stroke="#7d87a9" stroke-width="0.6"/>
<rect x="603.27" y="424.6" width="4.50" height="25.4" fill="#8a93b3" stroke="#7d87a9" stroke-width="0.6"/>
<rect x="609.99" y="422.7" width="4.50" height="27.3" fill="#8a93b3" stroke="#7d87a9" stroke-width="0.6"/>
<rect x="616.71" y="434.9" width="4.50" height="15.1" fill="#8a93b3" stroke="#7d87a9" stroke-width="0.6"/>
<rect x="623.43" y="418.9" width="4.50" height="31.1" fill="#8a93b3" stroke="#7d87a9" stroke-width="0.6"/>
<rect x="630.15" y="427.5" width="4.50" height="22.5" fill="#8a93b3" stroke="#7d87a9" stroke-width="0.6"/>
<rect x="636.87" y="413.2" width="4.50" height="36.8" fill="#8a93b3" stroke="#7d87a9" stroke-width="0.6"/>
<rect x="643.59" y="423.9" width="4.50" height="26.1" fill="#8a93b3" stroke="#7d87a9" stroke-width="0.6"/>
<rect x="650.31" y="414.1" width="4.50" height="35.9" fill="#8a93b3" stroke="#7d87a9" stroke-width="0.6"/>
<rect x="657.03" y="435.1" width="4.50" height="14.9" fill="#8a93b3" stroke="#7d87a9" stroke-width="0.6"/>
<rect x="663.75" y="438.4" width="4.50" height="11.6" fill="#8a93b3" stroke="#7d87a9" stroke-width="0.6"/>
<rect x="670.47" y="439.7" width="4.50" height="10.3" fill="#8a93b3" stroke="#7d87a9" stroke-width="0.6"/>
<rect x="677.19" y="420.6" width="4.50" height="29.4" fill="#8a93b3" stroke="#7d87a9" stroke-width="0.6"/>
<rect x="683.91" y="415.8" width="4.50" height="34.2" fill="#8a93b3" stroke="#7d87a9" stroke-width="0.6"/>
<rect x="690.63" y="424.6" width="4.50" height="25.4" fill="#8a93b3" stroke="#7d87a9" stroke-width="0.6"/>
<rect x="697.35" y="429.2" width="4.50" height="20.8" fill="#8a93b3" stroke="#7d87a9" stroke-width="0.6"/>
<rect x="704.07" y="416.0" width="4.50" height="34.0" fill="#8a93b3" stroke="#7d87a9" stroke-width="0.6"/>
<rect x="710.79" y="416.8" width="4.50" height="33.2" fill="#8a93b3" stroke="#7d87a9" stroke-width="0.6"/>
<rect x="717.51" y="427.5" width="4.50" height="22.5" fill="#8a93b3" stroke="#7d87a9" stroke-width="0.6"/>
<rect x="724.23" y="425.2" width="4.50" height="24.8" fill="#8a93b3" stroke="#7d87a9" stroke-width="0.6"/>
<rect x="730.95" y="428.6" width="4.50" height="21.4" fill="#8a93b3" stroke="#7d87a9" stroke-width="0.6"/>
<rect x="737.67" y="412.6" width="4.50" height="37.4" fill="#8a93b3" stroke="#7d87a9" stroke-width="0.6"/>
<rect x="744.39" y="422.7" width="4.50" height="27.3" fill="#8a93b3" stroke="#7d87a9" stroke-width="0.6"/>
</g>
<g stroke="#999999" stroke-width="1" fill="none">
<path d="M77.5,50V355.5H750"/>
<path d="M77.5,363V450.5H750"/>
</g>
<g class="ax">
<text x="74.6" y="80.9" text-anchor="end" textLength="62.1" lengthAdjust="spacing">1,100,000</text>
<text x="74.6" y="117.1" text-anchor="end" textLength="62.1" lengthAdjust="spacing">1,050,000</text>
<text x="74.6" y="152.9" text-anchor="end" textLength="62.1" lengthAdjust="spacing">1,000,000</text>
<text x="74.6" y="189.1" text-anchor="end" textLength="50.0" lengthAdjust="spacing">950,000</text>
<text x="74.6" y="225.3" text-anchor="end" textLength="50.0" lengthAdjust="spacing">900,000</text>
<text x="74.6" y="261.5" text-anchor="end" textLength="50.0" lengthAdjust="spacing">850,000</text>
<text x="74.6" y="297.7" text-anchor="end" textLength="50.0" lengthAdjust="spacing">800,000</text>
<text x="74.6" y="333.9" text-anchor="end" textLength="50.0" lengthAdjust="spacing">750,000</text>
</g>
<g class="vx">
<text x="74.5" y="376.9" text-anchor="end">400k</text>
<text x="74.5" y="396.1" text-anchor="end">300k</text>
<text x="74.5" y="415.7" text-anchor="end">200k</text>
<text x="74.5" y="435.1" text-anchor="end">100k</text>
<text x="74.5" y="454.2" text-anchor="end">0</text>
</g>
<g class="vx">
<text x="250" y="465" text-anchor="middle">Jan 2026</text>
<text x="505" y="465" text-anchor="middle">Mar 2026</text>
</g>
<g role="img" aria-label="✅">
<rect x="288.4" y="3.1" width="26.5" height="26" fill="#19c319" stroke="#000" stroke-width="1.5"/>
<path d="M293.9,16.7 L298.3,20.9 L309.3,9.9" fill="none" stroke="#fff" stroke-width="2.4"/>
</g>
<text class="t" x="327.4" y="24.8">HD<tspan x="366.2" textLength="150.5" lengthAdjust="spacingAndGlyphs" style="font-family:'NanumGothic','Noto Sans CJK KR',sans-serif;font-size:26px">현대일렉트릭</tspan></text>
<text class="t" x="283.7" y="57.5" textLength="234" lengthAdjust="spacing">2026-04-22 18:42</text>
</svg>
</body></html>
